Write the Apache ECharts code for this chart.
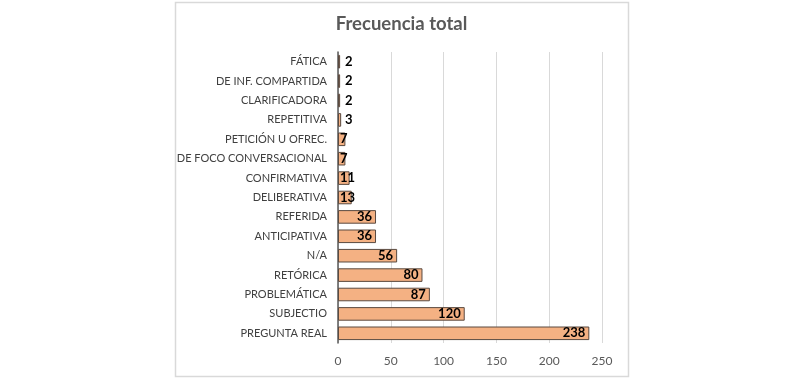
<!DOCTYPE html>
<html><head><meta charset="utf-8">
<script src="https://cdn.jsdelivr.net/npm/echarts@6/dist/echarts.min.js"></script>
<style>html,body{margin:0;padding:0;background:#fff}#c{width:803px;height:379px}</style>
</head><body><div id="c"></div>
<script>
const categories = ["PREGUNTA REAL","SUBJECTIO","PROBLEMÁTICA","RETÓRICA","N/A","ANTICIPATIVA","REFERIDA","DELIBERATIVA","CONFIRMATIVA","DE FOCO CONVERSACIONAL","PETICIÓN U OFREC.","REPETITIVA","CLARIFICADORA","DE INF. COMPARTIDA","FÁTICA"];
const values = [238,120,87,80,56,36,36,13,11,7,7,3,2,2,2];
const xTicks = [0,50,100,150,200,250];
const title = "Frecuencia total";

const chart = echarts.init(document.getElementById('c'));
const data = values.map(v => {
  if (v < 15) {
    return {value: v, label: {position: 'insideLeft', distance: v < 5 ? 7 : 2}};
  }
  return v;
});
chart.setOption({
  animation: false,
  title: {text: title, left: 'center', top: 10, textStyle: {fontFamily: 'Lato', fontSize: 18.5, fontWeight: 'bold', color: '#595959'}},
  graphic: [{type: 'rect', shape: {x: 175.5, y: 2.5, width: 453, height: 374}, style: {fill: 'none', stroke: '#d9d9d9', lineWidth: 1.5}}],
  grid: {left: 338, right: 201, top: 52, bottom: 36},
  xAxis: {type: 'value', min: 0, max: 250, interval: 50,
    axisLine: {show: false}, axisTick: {show: false},
    splitLine: {lineStyle: {color: '#d9d9d9'}},
    axisLabel: {color: '#595959', fontFamily: 'Lato', fontSize: 12, margin: 12,
      formatter: v => xTicks.includes(v) ? String(v) : ''}},
  yAxis: {type: 'category', data: categories,
    axisLine: {lineStyle: {color: '#595959', width: 1.5}}, axisTick: {show: false},
    axisLabel: {color: '#404040', fontFamily: 'Lato', fontSize: 11, margin: 11}},
  series: [{type: 'bar', data: data, barCategoryGap: '30%',
    itemStyle: {color: '#F4B183', borderColor: '#5a4a40', borderWidth: 1},
    label: {show: true, position: 'insideRight', distance: 4, color: '#000', fontFamily: 'Lato', fontWeight: 'bold', fontSize: 13}}]
});
</script></body></html>
